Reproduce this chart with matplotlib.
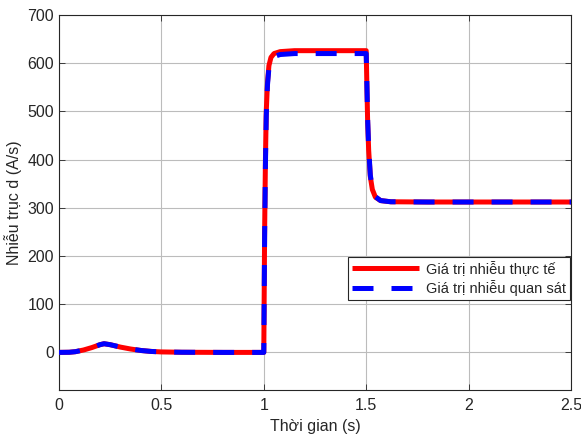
import matplotlib
matplotlib.use("Agg")
import matplotlib.pyplot as plt

plt.rcParams['font.family'] = ['Liberation Sans', 'DejaVu Sans']

# Data
t = [0, 0.05, 0.08, 0.12, 0.16, 0.2, 0.22, 0.25, 0.3, 0.35, 0.4, 0.45, 0.5, 0.6, 0.8,
     1.0, 1.004, 1.008, 1.012, 1.018, 1.025, 1.035, 1.05, 1.08, 1.15, 1.3, 1.5,
     1.503, 1.507, 1.512, 1.52, 1.53, 1.545, 1.57, 1.62, 1.8, 2.2, 2.5]
actual = [0, 0.3, 1.5, 5, 10, 16, 18, 16, 11, 7, 4, 2, 1, 0.3, 0,
          0, 250, 400, 500, 560, 595, 612, 620, 624, 626, 626, 626,
          560, 480, 420, 365, 338, 322, 315, 312.5, 312, 312, 312]
observed = [0, 0.3, 1.5, 5, 10, 16, 18, 16, 11, 7, 4, 2, 1, 0.3, 0,
            0, 240, 390, 490, 555, 590, 606, 614, 618, 620, 620, 620,
            565, 485, 425, 368, 340, 323, 315, 312.5, 312, 312, 312]
xticks = [0, 0.5, 1, 1.5, 2, 2.5]
xticklabels = ['0', '0.5', '1', '1.5', '2', '2.5']
yticks = [0, 100, 200, 300, 400, 500, 600, 700]
labels = ['Giá trị nhiễu thực tế', 'Giá trị nhiễu quan sát']

W, H = 581, 434
fig = plt.figure(figsize=(W / 100, H / 100), dpi=100)
ax = fig.add_axes([59 / W, 1 - 390 / H, (571 - 59) / W, (390 - 15) / H])

tc = '#262626'
ax.plot(t, actual, color='#ff0000', lw=3.6, solid_capstyle='butt', label=labels[0], zorder=3)
ax.plot(t, observed, color='#0000ff', lw=3.6, linestyle=(0, (4.2, 3.6)),
        dash_capstyle='butt', label=labels[1], zorder=4)

ax.set_xlim(0, 2.5)
ax.set_ylim(-78, 700)
ax.set_xticks(xticks)
ax.set_xticklabels(xticklabels)
ax.set_yticks(yticks)
ax.grid(True, color='#bcbcbc', lw=0.8)
ax.set_axisbelow(True)
ax.tick_params(direction='in', length=4, width=0.6, colors=tc, labelsize=11.5,
               top=True, right=True)
ax.tick_params(axis='y', pad=3.5)
ax.tick_params(axis='x', pad=6)
for s in ax.spines.values():
    s.set_color(tc)
    s.set_linewidth(0.8)

ax.set_xlabel('Thời gian (s)', fontsize=11.5, color=tc, labelpad=4)
ax.set_ylabel('Nhiễu trục d (A/s)', fontsize=11.5, color=tc, labelpad=4)

leg = ax.legend(loc='upper right', bbox_to_anchor=(570 / W, 1 - 257 / H),
                bbox_transform=fig.transFigure, borderaxespad=0, fontsize=10.5,
                handlelength=4.6, handletextpad=0.45, borderpad=0.3,
                labelspacing=0.25, fancybox=False, framealpha=1)
leg.get_frame().set_edgecolor(tc)
leg.get_frame().set_linewidth(0.8)
for txt in leg.get_texts():
    txt.set_color(tc)

fig.savefig('out.png', dpi=100)
